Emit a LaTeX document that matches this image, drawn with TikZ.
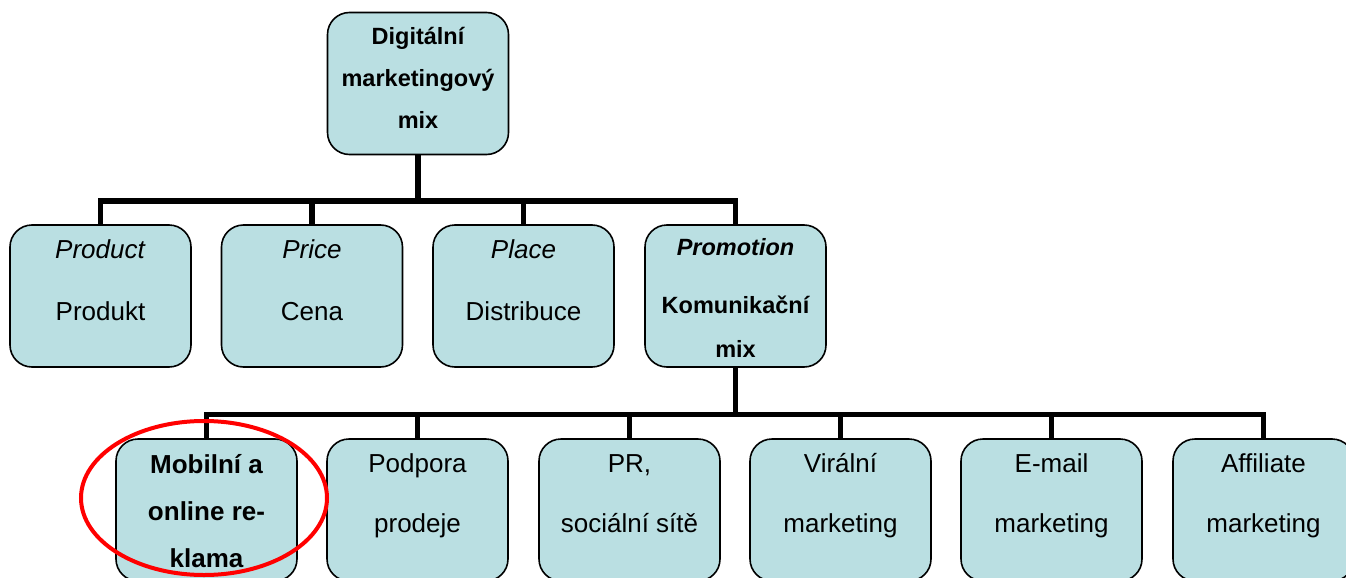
\documentclass[tikz,border=0pt]{standalone}
\usepackage{fontspec}
\setmainfont{Liberation Sans}
\usepackage{tikz}
\usetikzlibrary{positioning, shapes.geometric}
\definecolor{boxfill}{RGB}{186,223,226}
\definecolor{myred}{RGB}{255,0,0}
\tikzset{
  box/.style={rectangle, draw=black, fill=boxfill, line width=1.6pt,
    rounded corners=22pt, minimum width=181pt, minimum height=142pt,
    inner sep=0pt},
  txt/.style={align=center, inner sep=0pt, anchor=base,
    font=\fontsize{26}{62}\selectfont},
  boldtxt/.style={txt, font=\fontsize{23.5}{42}\bfseries\selectfont},
  conn/.style={line width=5.5pt, color=black},
  circ/.style={ellipse, draw=myred, line width=4pt, minimum width=246pt,
    minimum height=154pt, inner sep=0pt}
}

\begin{document}
\begin{tikzpicture}[x=1pt, y=-1pt]
  \useasboundingbox (0,0) rectangle (1346,578);
  \clip (0,0) rectangle (1346,578);

  % Top level (text nodes sit on the baseline of their last line)
  \node[box] (dmix) at (418,83.5) {};
  \node[boldtxt] (dmixT) at (418,128) {Digitální\\marketingový\\mix};

  % 4P row
  \node[box] (prod)  at (100.5,296) {};
  \node[box] (price) at (312,296) {};
  \node[box] (place) at (523.5,296) {};
  \node[box] (promo) at (735.5,296) {};
  \node[txt] (prodT)  at (100.5,320) {\textit{Product}\\Produkt};
  \node[txt] (priceT) at (312,320) {\textit{Price}\\Cena};
  \node[txt] (placeT) at (523.5,320) {\textit{Place}\\Distribuce};
  \node[txt, font=\fontsize{23.5}{44}\bfseries\selectfont] (promoT) at (735.5,357)
    {\textit{Promotion}\\[14pt]Komunikační\\mix};

  % Communication mix row
  \node[box] (mobil)   at (206.5,510) {};
  \node[box] (podpora) at (417.5,510) {};
  \node[box] (pr)      at (629.5,510) {};
  \node[box] (viral)   at (840.5,510) {};
  \node[box] (email)   at (1051.5,510) {};
  \node[box] (affil)   at (1263.5,510) {};
  \node[txt, font=\fontsize{26}{47}\bfseries\selectfont] (mobilT) at (206.5,567)
    {Mobilní a\\online re-\\klama};
  \node[txt, font=\fontsize{26}{60}\selectfont] (podporaT) at (417.5,532) {Podpora\\prodeje};
  \node[txt, font=\fontsize{26}{60}\selectfont] (prT) at (629.5,532) {PR,\\sociální sítě};
  \node[txt, font=\fontsize{26}{60}\selectfont] (viralT) at (840.5,532) {Virální\\marketing};
  \node[txt, font=\fontsize{26}{60}\selectfont] (emailT) at (1051.5,532) {E-mail\\marketing};
  \node[txt, font=\fontsize{26}{60}\selectfont] (affilT) at (1263.5,532) {Affiliate\\marketing};

  % Connectors
  \coordinate (bar1) at (418,201);
  \coordinate (bar2) at (735.5,414.5);
  \foreach \n in {prod, price, place, promo}
    \draw[conn] (dmix.south) -- (bar1) -| (\n.north);
  \foreach \n in {mobil, podpora, pr, viral, email, affil}
    \draw[conn] (promo.south) -- (bar2) -| (\n.north);

  % Highlight
  \node[circ] (hl) at (204,498) {};
\end{tikzpicture}
\end{document}
